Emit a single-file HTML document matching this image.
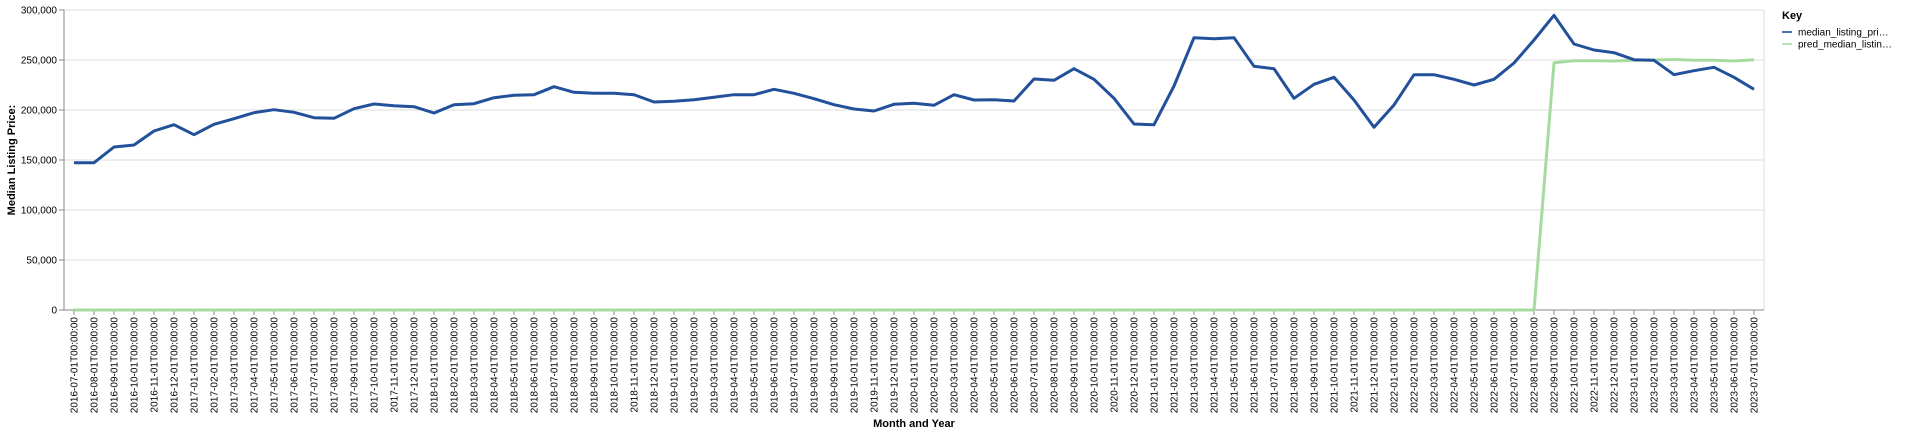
<!DOCTYPE html>
<html><head><meta charset="utf-8"><style>
html,body{margin:0;padding:0;background:#fff;}
svg{display:block;font-family:"Liberation Sans",Arial,sans-serif;}
</style></head><body>
<svg id="chart" width="1920" height="434"></svg>
<script>
const months = [];
for (let y = 2016, m = 7; !(y === 2023 && m === 8); ) {
  months.push(y + "-" + String(m).padStart(2, "0") + "-01T00:00:00");
  m++; if (m > 12) { m = 1; y++; }
}
const actualValues = [147300,147300,163000,165000,179000,185300,175300,185700,191300,197300,200300,197700,192300,191700,201300,206000,204300,203300,197000,205300,206300,212300,214700,215300,223300,217700,216700,216700,215300,208000,208700,210300,212700,215300,215300,220700,216700,211300,205300,201000,199000,205700,206700,204700,215300,210000,210300,209000,231000,229700,241300,230700,211700,186000,185300,224000,272300,271300,272300,243700,241300,211700,225700,232700,210000,182700,205000,235300,235300,230700,225000,230700,247000,270000,294700,266000,260000,257300,250300,249700,235300,239300,242700,232700,220700];
const predValues = [0,0,0,0,0,0,0,0,0,0,0,0,0,0,0,0,0,0,0,0,0,0,0,0,0,0,0,0,0,0,0,0,0,0,0,0,0,0,0,0,0,0,0,0,0,0,0,0,0,0,0,0,0,0,0,0,0,0,0,0,0,0,0,0,0,0,0,0,0,0,0,0,0,0,247300,249300,249300,249000,249700,250000,250500,249700,249700,249000,250300];
const yTicks = [0,50000,100000,150000,200000,250000,300000];
const legendLabels = ["median_listing_pri…","pred_median_listin…"];

const NS = "http://www.w3.org/2000/svg";
const svg = document.getElementById("chart");
const L = 64, R = 1764, T = 10, B = 310;
const step = (R - L) / months.length;
const xScale = i => L + step * (i + 0.5);
const yScale = v => B - (v / 300000) * (B - T);
function mk(tag, attrs, parent) {
  const e = document.createElementNS(NS, tag);
  for (const k in attrs) e.setAttribute(k, attrs[k]);
  (parent || svg).appendChild(e);
  return e;
}
const fmt = v => v.toLocaleString("en-US");

// gridlines + y ticks
yTicks.forEach(v => {
  const y = yScale(v);
  const g = mk("line", {x1: L, x2: R, y1: y, y2: y, stroke: "#ddd", "stroke-width": 1});
  
  
  const t = mk("line", {x1: L - 5, x2: L, y1: y, y2: y, stroke: "#888"});
  
  
  const lb = mk("text", {x: L - 7, y: y + 3.5, "text-anchor": "end", "font-size": 10, fill: "#000"});
  lb.textContent = fmt(v);
  
  
});
// right border
const rb = mk("line", {x1: R, x2: R, y1: T, y2: B, stroke: "#ddd"});


// y axis
const ya = mk("line", {x1: L, x2: L, y1: T, y2: B, stroke: "#888"});


// x axis
const xa = mk("line", {x1: L, x2: R, y1: B, y2: B, stroke: "#888"});


months.forEach((m, i) => {
  const x = xScale(i);
  const t = mk("line", {x1: x, x2: x, y1: B, y2: B + 5, stroke: "#888"});
  
  
  const lb = mk("text", {x: 0, y: 0, transform: `translate(${x + 3.5},${B + 7}) rotate(-90)`, "text-anchor": "end", "font-size": 10, fill: "#000"});
  lb.textContent = m;
  
  
});
// axis titles
const yt = mk("text", {transform: `translate(15,${(T + B) / 2}) rotate(-90)`, "text-anchor": "middle", "font-size": 11, "font-weight": "bold"});
yt.textContent = "Median Listing Price:";


const xt = mk("text", {x: (L + R) / 2, y: 427, "text-anchor": "middle", "font-size": 11, "font-weight": "bold"});
xt.textContent = "Month and Year";



// series
function line(vals, color, name) {
  const d = vals.map((v, i) => (i ? "L" : "M") + xScale(i).toFixed(2) + "," + yScale(v).toFixed(2)).join("");
  const p = mk("path", {d, fill: "none", stroke: color, "stroke-width": 3, "stroke-linejoin": "round"});
  
  
}
line(predValues, "#a6dba0", "pred-median-listing-price-line");
line(actualValues, "#22509a", "median-listing-price-line");

// legend
const lt = mk("text", {x: 1782, y: 19, "font-size": 11, "font-weight": "bold"});
lt.textContent = "Key";


const legendColors = ["#4c72b0", "#b7e2b1"];
legendLabels.forEach((lab, i) => {
  const y = 32 + i * 12;
  const s = mk("line", {x1: 1782, x2: 1792, y1: y, y2: y, stroke: legendColors[i], "stroke-width": 2});
  
  
  const t = mk("text", {x: 1798, y: y + 3.5, "font-size": 10});
  t.textContent = lab;
  
  
});
</script>
</body></html>
